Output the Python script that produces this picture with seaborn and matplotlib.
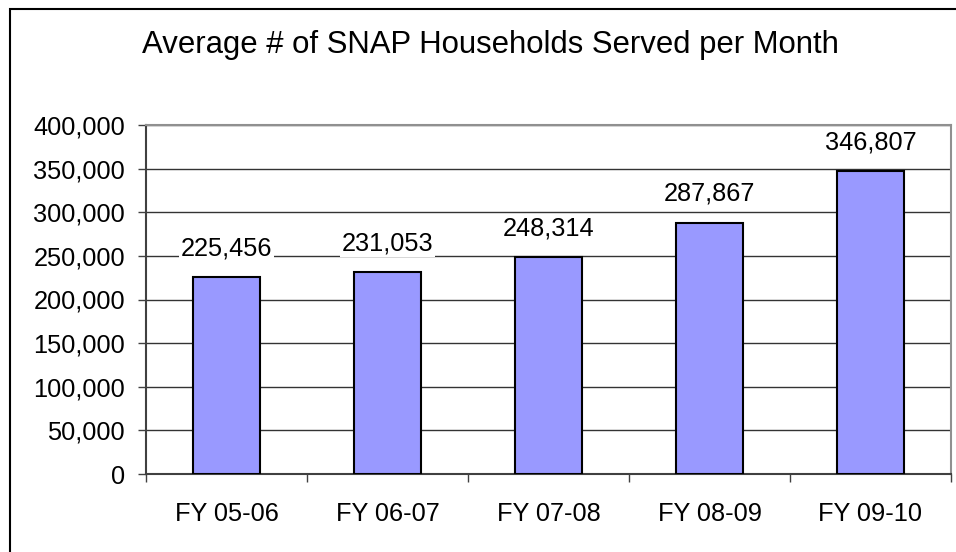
import matplotlib
matplotlib.use("Agg")
import matplotlib.pyplot as plt
import seaborn as sns
import pandas as pd
from matplotlib.patches import Rectangle
from matplotlib.ticker import FuncFormatter, FixedLocator

categories = ["FY 05-06", "FY 06-07", "FY 07-08", "FY 08-09", "FY 09-10"]
households = [225456, 231053, 248314, 287867, 346807]
y_ticks = [0, 50000, 100000, 150000, 200000, 250000, 300000, 350000, 400000]
title = "Average # of SNAP Households Served per Month"

sns.set_theme(style="white")
plt.rcParams['font.family'] = ['Liberation Sans', 'DejaVu Sans']

W, H = 956, 552
fig = plt.figure(figsize=(W / 100, H / 100), dpi=100)
fig.patch.set_facecolor("white")
ax = fig.add_axes([146 / W, (H - 474) / H, (951 - 146) / W, (474 - 125) / H])

df = pd.DataFrame({"cat": categories, "val": households})
sns.barplot(data=df, x="cat", y="val", color="#9999FF", saturation=1,
            width=0.41, edgecolor="black", linewidth=1.5, ax=ax, zorder=3)

ax.set_xlim(-0.5, len(categories) - 0.5)
ax.set_ylim(0, 400000)
ax.set_yticks(y_ticks)
ax.yaxis.set_major_formatter(FuncFormatter(lambda v, p: f"{int(v):,}"))
ax.set_xlabel("")
ax.set_ylabel("")

ax.yaxis.grid(True, color="#333333", linewidth=1)
ax.set_axisbelow(True)

for s in ["top", "right"]:
    ax.spines[s].set_color("#909090")
    ax.spines[s].set_linewidth(1.5)
for s in ["left", "bottom"]:
    ax.spines[s].set_color("#404040")
    ax.spines[s].set_linewidth(1.5)

fs = 18.3
ax.tick_params(axis="y", which="major", direction="out", length=6, width=1,
               color="#404040", pad=9, labelsize=fs, left=True, labelcolor="black")
ax.tick_params(axis="x", which="major", length=0, pad=20, labelsize=fs, labelcolor="black")
ax.xaxis.set_minor_locator(FixedLocator([i - 0.5 for i in range(len(categories) + 1)]))
ax.tick_params(axis="x", which="minor", direction="out", length=5.5, width=1,
               color="#404040", bottom=True)

for i, v in enumerate(households):
    ax.annotate(f"{v:,}", (i, v), xytext=(0, 21), textcoords="offset points",
                ha="center", va="center", fontsize=fs, color="black", zorder=5,
                bbox=dict(fc="white", ec="none", pad=1.5))

fig.text(490 / W, 1 - 45 / H, title, ha="center", va="center", fontsize=22.4, color="black")

fig.patches.append(Rectangle((10 / W, -0.1), 1.2, 1 - 9 / H + 0.1, transform=fig.transFigure,
                             fill=False, edgecolor="black", linewidth=1.5, clip_on=False))

fig.savefig("out.png", dpi=100, facecolor="white")
